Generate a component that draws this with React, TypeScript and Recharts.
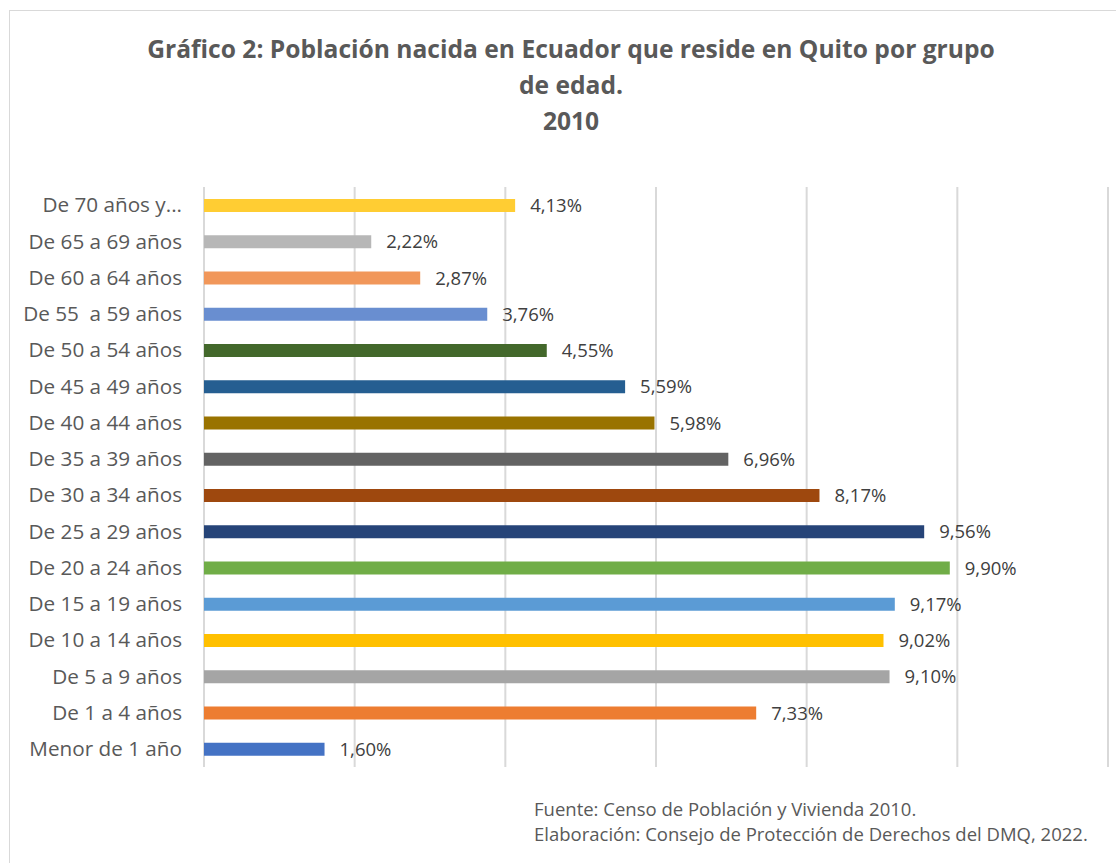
import React from "react";
import {
  BarChart,
  Bar,
  XAxis,
  YAxis,
  CartesianGrid,
  Cell,
  LabelList,
} from "recharts";

// bottom to top, as in the source table
const ageGroups = [
  "Menor de 1 año",
  "De 1 a 4 años",
  "De 5 a 9 años",
  "De 10 a 14 años",
  "De 15 a 19 años",
  "De 20 a 24 años",
  "De 25 a 29 años",
  "De 30 a 34 años",
  "De 35 a 39 años",
  "De 40 a 44 años",
  "De 45 a 49 años",
  "De 50 a 54 años",
  "De 55\u00a0 a 59 años",
  "De 60 a 64 años",
  "De 65 a 69 años",
  "De 70 años y...",
];

const percents = [
  1.6, 7.33, 9.1, 9.02, 9.17, 9.9, 9.56, 8.17, 6.96, 5.98, 5.59, 4.55, 3.76,
  2.87, 2.22, 4.13,
];

const barColors = [
  "#4472C4",
  "#ED7D31",
  "#A5A5A5",
  "#FFC000",
  "#5B9BD5",
  "#70AD47",
  "#264478",
  "#9E480E",
  "#636363",
  "#997300",
  "#255E91",
  "#43682B",
  "#698ED0",
  "#F1975A",
  "#B7B7B7",
  "#FFCD33",
];

const xTicks = [0, 2, 4, 6, 8, 10, 12];

const titleLines = [
  "Gráfico 2: Población nacida en Ecuador que reside en Quito por grupo",
  "de edad.",
  "2010",
];

const footerLines = [
  "Fuente: Censo de Población y Vivienda 2010.",
  "Elaboración: Consejo de Protección de Derechos del DMQ, 2022.",
];

const data = ageGroups.map((group, i) => ({
  group,
  value: percents[i],
}));

const font = "'Open Sans', 'Noto Sans', sans-serif";

const fmt = (v: any) => Number(v).toFixed(2).replace(".", ",") + "%";

// x axis has no visible labels, only the grid uses its ticks
const EmptyTick = () => <g />;

export default function App() {
  return (
    <div
      style={{
        position: "absolute",
        left: 0,
        top: 0,
        width: 1116,
        height: 863,
        background: "#fff",
        overflow: "hidden",
        fontFamily: font,
      }}
    >
      <div
        style={{
          position: "absolute",
          left: 9,
          top: 10,
          width: 1120,
          height: 880,
          border: "1.5px solid #d9d9d9",
        }}
      />
      <div
        style={{
          position: "absolute",
          left: 71,
          width: 1000,
          top: 31,
          textAlign: "center",
          color: "#595959",
          fontWeight: 700,
          fontSize: 24.6,
          lineHeight: "36px",
        }}
      >
        {titleLines.map((t) => (
          <div key={t}>{t}</div>
        ))}
      </div>

      <div style={{ position: "absolute", left: 0, top: 0 }}>
        <BarChart
          width={1116}
          height={863}
          data={data}
          layout="vertical"
          margin={{ top: 187, right: 8, bottom: 96, left: 0 }}
          barSize={13}
        >
          <CartesianGrid
            horizontal={false}
            stroke="#d9d9d9"
            strokeWidth={2}
          />
          <XAxis
            type="number"
            domain={[0, 12]}
            ticks={xTicks}
            tick={<EmptyTick />}
            tickLine={false}
            axisLine={false}
            height={0}
          />
          <YAxis
            type="category"
            dataKey="group"
            reversed
            width={204}
            axisLine={false}
            tickLine={false}
            tickMargin={16}
            interval={0}
            tick={{ fill: "#595959", fontSize: 20.7, fontFamily: font }}
          />
          <Bar dataKey="value" isAnimationActive={false}>
            {data.map((d, i) => (
              <Cell key={d.group} fill={barColors[i]} />
            ))}
            <LabelList
              dataKey="value"
              position="right"
              offset={15}
              formatter={fmt}
              fill="#404040"
              fontSize={18.5}
              fontFamily={font}
            />
          </Bar>
        </BarChart>
      </div>

      <div
        style={{
          position: "absolute",
          left: 534,
          top: 796,
          color: "#595959",
          fontSize: 18.5,
          lineHeight: "25px",
        }}
      >
        {footerLines.map((t) => (
          <div key={t}>{t}</div>
        ))}
      </div>
    </div>
  );
}
